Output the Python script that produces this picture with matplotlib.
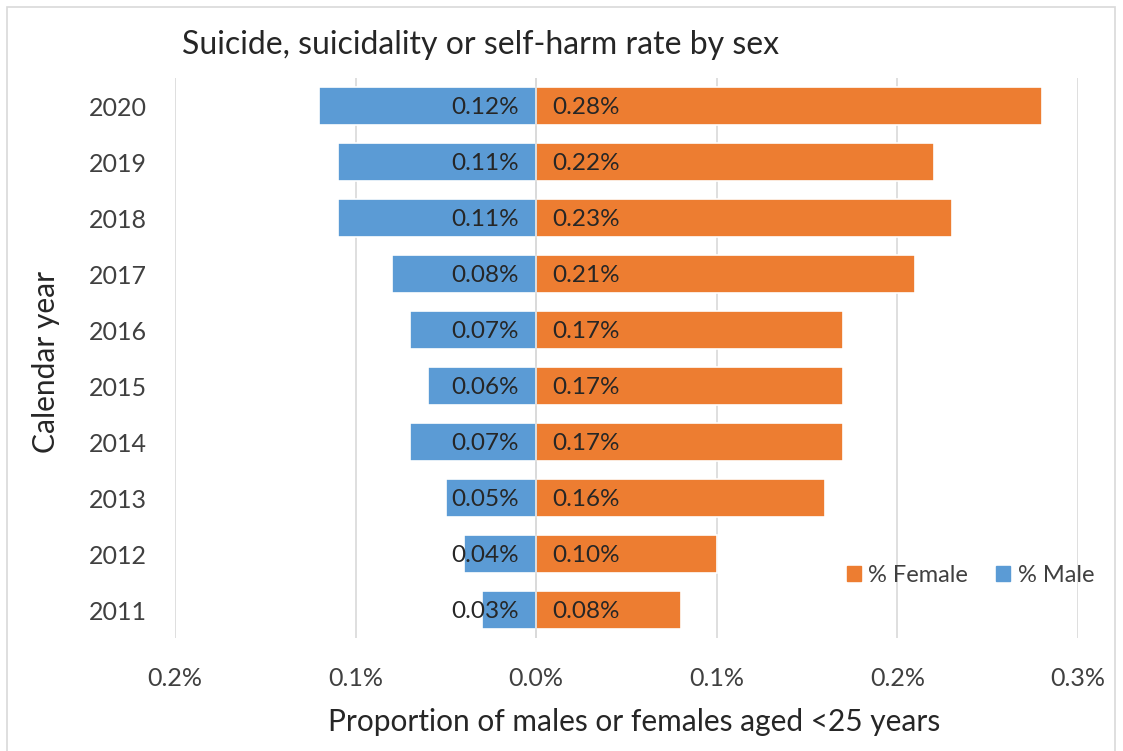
import matplotlib.pyplot as plt
from matplotlib.patches import Patch
from matplotlib.ticker import FixedLocator, FuncFormatter

years = ['2011', '2012', '2013', '2014', '2015', '2016', '2017', '2018', '2019', '2020']
male = [0.03, 0.04, 0.05, 0.07, 0.06, 0.07, 0.08, 0.11, 0.11, 0.12]
female = [0.08, 0.10, 0.16, 0.17, 0.17, 0.17, 0.21, 0.23, 0.22, 0.28]
xticks = [-0.2, -0.1, 0.0, 0.1, 0.2, 0.3]

blue = '#5B9BD5'
orange = '#ED7D31'
grid = '#D9D9D9'
txt = '#404040'

plt.rcParams['font.family'] = ['Lato', 'DejaVu Sans']

fig = plt.figure(figsize=(11.23, 7.51), dpi=100)
ax = fig.add_axes([175/1123, 1-638/751, (1078-175)/1123, (638-78)/751])

pos = list(range(len(years)))
neg_male = [-m for m in male]
ax.barh(pos, neg_male, height=0.67, color=blue, edgecolor='white', linewidth=1.2, zorder=2)
ax.barh(pos, female, height=0.67, color=orange, edgecolor='white', linewidth=1.2, zorder=2)

# data labels sit next to the zero line, inside the bars
for p, m, f in zip(pos, male, female):
    ax.annotate(f'{m:.2f}%', (0, p), xytext=(-17, -2), textcoords='offset pixels',
                ha='right', va='center', fontsize=17.5, color='#262626', zorder=4)
    ax.annotate(f'{f:.2f}%', (0, p), xytext=(16, -2), textcoords='offset pixels',
                ha='left', va='center', fontsize=17.5, color='#262626', zorder=4)

ax.set_xlim(-0.2, 0.3)
ax.set_ylim(-0.5, 9.5)
ax.xaxis.set_major_locator(FixedLocator(xticks))
ax.xaxis.set_major_formatter(FuncFormatter(lambda v, _: f'{abs(v):.1f}%'))
ax.set_yticks(pos)
ax.set_yticklabels(years)
ax.tick_params(axis='both', length=0, labelsize=18, colors=txt)
ax.tick_params(axis='x', pad=21)
ax.tick_params(axis='y', pad=20)
ax.grid(axis='x', color=grid, linewidth=1.2, zorder=0)
ax.axvline(0, color=grid, linewidth=1.2, zorder=3)
for s in ax.spines.values():
    s.set_visible(False)

ax.set_xlabel('Proportion of males or females aged <25 years', fontsize=21.5, color='#262626')
ax.set_ylabel('Calendar year', fontsize=21.5, color='#262626')
ax.xaxis.label.set_va('center')
ax.xaxis.set_label_coords((634 - 175) / 903, (638 - 722) / 560)
ax.yaxis.label.set_va('center')
ax.yaxis.set_label_coords((46 - 175) / 903, (638 - 362) / 560)

fig.text(182/1123, 1-45/751, 'Suicide, suicidality or self-harm rate by sex',
         fontsize=23, color='#262626', ha='left', va='center')

handles = [Patch(color=orange, label='% Female'), Patch(color=blue, label='% Male')]
fig.legend(handles=handles, loc='center right', bbox_to_anchor=(1094/1123, 1-575/751),
           ncol=2, frameon=False, fontsize=17, handlelength=0.6, handleheight=0.6,
           handletextpad=0.3, columnspacing=1.2, labelcolor=txt, borderaxespad=0,
           borderpad=0)

# chart border
fig.patches.append(plt.Rectangle((7/1123, -0.01), (1115-7)/1123, 1-7/751+0.01,
                                 transform=fig.transFigure, fill=False,
                                 edgecolor='#D9D9D9', linewidth=1.2))

fig.savefig('out.png', dpi=100)
